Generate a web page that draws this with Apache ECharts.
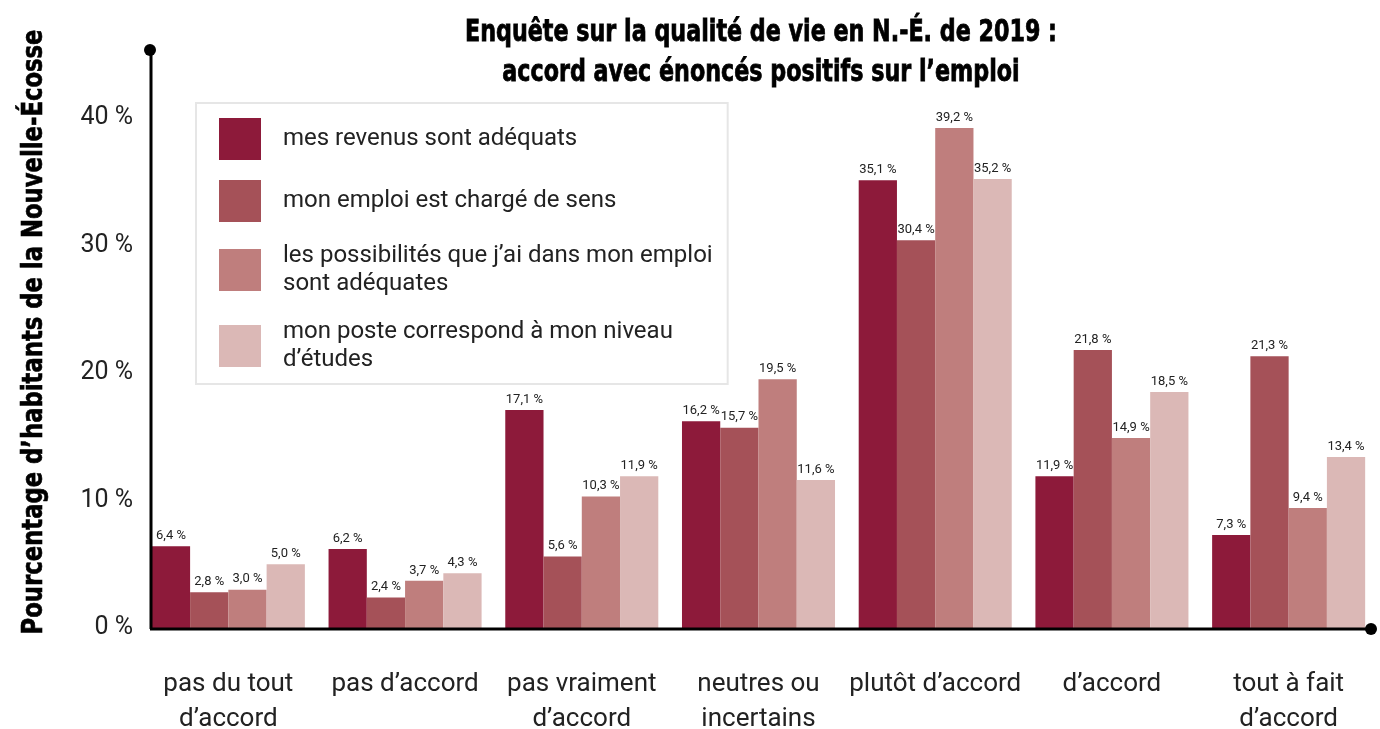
<!DOCTYPE html>
<html>
<head>
<meta charset="utf-8">
<title>Qualité de vie N.-É. 2019</title>
<script src="https://cdn.jsdelivr.net/npm/echarts@6/dist/echarts.min.js"></script>
<style>
    html, body{
        margin: 0;
        padding: 0;
        background: #fff;
        overflow: hidden;
    }
    #chart{
        width: 1380px;
        height: 729px;
    }
</style>
</head>
<body>
<div id="chart"></div>
<script>
    // catégories de l'axe x
    var categories = ['pas du tout\nd’accord', 'pas d’accord', 'pas vraiment\nd’accord', 'neutres ou\nincertains', 'plutôt d’accord', 'd’accord', 'tout à fait\nd’accord'];
    // noms des séries (légende)
    var seriesNames = ['mes revenus sont adéquats', 'mon emploi est chargé de sens', 'les possibilités que j’ai dans mon emploi\nsont adéquates', 'mon poste correspond à mon niveau\nd’études'];
    // valeurs en %
    var revenus = [6.4, 6.2, 17.1, 16.2, 35.1, 11.9, 7.3];
    var sens = [2.8, 2.4, 5.6, 15.7, 30.4, 21.8, 21.3];
    var possibilites = [3.0, 3.7, 10.3, 19.5, 39.2, 14.9, 9.4];
    var niveau = [5.0, 4.3, 11.9, 11.6, 35.2, 18.5, 13.4];
    var yTicks = [0, 10, 20, 30, 40];

    var colors = ['#8d1a3a', '#a55158', '#bf7e7d', '#dbb8b6'];
    var allData = [revenus, sens, possibilites, niveau];

    var titleText = 'Enquête sur la qualité de vie en N.-É. de 2019 :\naccord avec énoncés positifs sur l’emploi';
    var yName = 'Pourcentage d’habitants de la Nouvelle-Écosse';
    var condensedFont = '"DejaVu Sans Condensed", "DejaVu Sans", sans-serif';

    function fmt(v){
        return v.toFixed(1).replace('.', ',') + ' %';
    }

    // pas de police étroite installée : on mesure puis on resserre le texte
    var ctx = document.createElement('canvas').getContext('2d');
    function textWidth(txt, size){
        ctx.font = 'bold ' + size + 'px ' + condensedFont;
        return ctx.measureText(txt).width;
    }
    var titleScale = 592 / textWidth(titleText.split('\n')[0], 31);
    var yNameScale = 605 / textWidth(yName, 28);

    var myChart = echarts.init(document.getElementById('chart'));

    var series = allData.map(function (d, i) {
        return {
            name: seriesNames[i],
            type: 'bar',
            data: d,
            barGap: '0%',
            barCategoryGap: '13.4%',
            itemStyle: {color: colors[i]},
            label: {
                show: true,
                position: 'top',
                distance: 4,
                fontFamily: 'Roboto',
                fontSize: 13,
                color: '#222',
                formatter: function (p) { return fmt(p.value); }
            }
        };
    });

    var option = {
        animation: false,
        backgroundColor: '#fff',
        legend: {
            orient: 'vertical',
            left: 196,
            top: 103,
            icon: 'rect',
            itemWidth: 42,
            itemHeight: 42,
            itemGap: 20,
            padding: [15, 15, 10, 23],
            borderColor: '#e6e6e6',
            borderWidth: 2,
            selectedMode: false,
            data: seriesNames,
            textStyle: {
                fontFamily: 'Roboto',
                fontSize: 24,
                lineHeight: 28,
                color: '#222',
                padding: [0, 0, 0, 17]
            }
        },
        grid: {
            left: 140,
            right: 3,
            top: 54,
            bottom: 101,
            containLabel: false,
            outerBoundsMode: 'none'
        },
        xAxis: {
            type: 'category',
            data: categories,
            axisLine: {show: false},
            axisTick: {show: false},
            axisLabel: {
                interval: 0,
                margin: 39,
                fontFamily: 'Roboto',
                fontSize: 26,
                lineHeight: 35,
                color: '#222'
            }
        },
        yAxis: {
            type: 'value',
            min: 0,
            max: 45,
            interval: 10,
            axisLine: {show: false},
            axisTick: {show: false},
            splitLine: {show: false},
            axisLabel: {
                showMaxLabel: false,
                margin: 7,
                fontFamily: 'Roboto',
                fontSize: 25,
                color: '#222',
                formatter: function (v) { return yTicks.indexOf(v) >= 0 ? v + ' %' : ''; }
            }
        },
        graphic: [
            // axe vertical
            {type: 'line', shape: {x1: 151, y1: 50, x2: 151, y2: 629}, style: {stroke: '#000', lineWidth: 3}, z: 100},
            {type: 'circle', shape: {cx: 150, cy: 50, r: 6}, style: {fill: '#000'}, z: 100},
            // axe horizontal
            {type: 'line', shape: {x1: 150, y1: 629, x2: 1371, y2: 629}, style: {stroke: '#000', lineWidth: 3}, z: 100},
            {type: 'circle', shape: {cx: 1371, cy: 629, r: 6}, style: {fill: '#000'}, z: 100},
            // titre
            {
                type: 'text',
                x: 761,
                y: 13,
                scaleX: titleScale,
                style: {
                    text: titleText,
                    fontFamily: condensedFont,
                    fontWeight: 'bold',
                    fontSize: 31,
                    lineHeight: 40,
                    fill: '#000',
                    stroke: '#000',
                    lineWidth: 0.8,
                    align: 'center',
                    verticalAlign: 'top'
                }
            },
            // titre de l'axe y
            {
                type: 'text',
                x: 35,
                y: 332,
                rotation: Math.PI / 2,
                scaleX: yNameScale,
                style: {
                    text: yName,
                    fontFamily: condensedFont,
                    fontWeight: 'bold',
                    fontSize: 28,
                    fill: '#000',
                    stroke: '#000',
                    lineWidth: 0.6,
                    align: 'center',
                    verticalAlign: 'middle'
                }
            }
        ],
        series: series
    };

    myChart.setOption(option);
</script>
</body>
</html>
